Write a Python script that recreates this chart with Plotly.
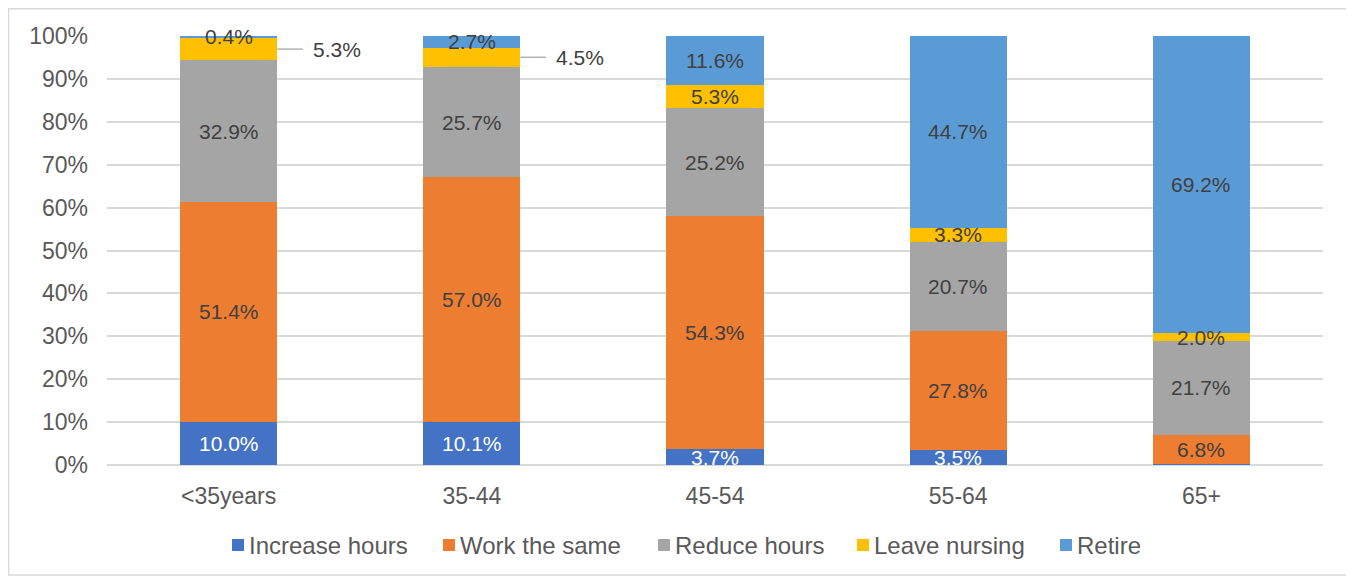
import plotly.graph_objects as go

categories = ["<35years", "35-44", "45-54", "55-64", "65+"]
series_names = ["Increase hours", "Work the same", "Reduce hours", "Leave nursing", "Retire"]
increase_hours = [10.0, 10.1, 3.7, 3.5, 0.3]
work_the_same = [51.4, 57.0, 54.3, 27.8, 6.8]
reduce_hours = [32.9, 25.7, 25.2, 20.7, 21.7]
leave_nursing = [5.3, 4.5, 5.3, 3.3, 2.0]
retire = [0.4, 2.7, 11.6, 44.7, 69.2]
tick_vals = [0, 10, 20, 30, 40, 50, 60, 70, 80, 90, 100]
tick_text = [f"{v}%" for v in tick_vals]

colors = ["#4472C4", "#ED7D31", "#A5A5A5", "#FFC000", "#5B9BD5"]
text_colors = ["#FFFFFF", "#404040", "#404040", "#404040", "#404040"]
all_series = [increase_hours, work_the_same, reduce_hours, leave_nursing, retire]

# (series index, category index)
omitted = {(0, 4)}
outside = {(3, 0), (3, 1)}

FONT = "Liberation Sans, Arial, sans-serif"
LABEL_SIZE = 21

# figure geometry (px) used to place the custom legend in paper coordinates
W, H = 1346, 569
ML, MR, MT, MB = 99, 31, 28, 112
PW, PH = W - ML - MR, H - MT - MB


def px_to_paper_x(px):
    return (px - ML) / PW


def px_to_paper_y(py):
    return (H - MB - py) / PH


fig = go.Figure()
for si, (name, vals) in enumerate(zip(series_names, all_series)):
    fig.add_trace(go.Bar(
        x=categories, y=vals, name=name,
        marker=dict(color=colors[si], line=dict(width=0)),
        hoverinfo="skip", showlegend=False,
    ))

for ci in range(len(categories)):
    base = 0.0
    for si in range(len(all_series)):
        v = all_series[si][ci]
        mid = base + v / 2
        base += v
        if (si, ci) in omitted:
            continue
        label = f"{v:.1f}%"
        if (si, ci) in outside:
            fig.add_shape(type="line", xref="x", yref="y",
                          x0=ci + 0.2, x1=ci + 0.305, y0=mid, y1=mid,
                          line=dict(color="#A6A6A6", width=1.3))
            fig.add_annotation(x=ci + 0.2, y=mid, xref="x", yref="y",
                               text=label, showarrow=False, xanchor="left",
                               xshift=34,
                               font=dict(size=LABEL_SIZE, color="#404040", family=FONT))
        else:
            fig.add_annotation(x=ci, y=mid, xref="x", yref="y",
                               text=label, showarrow=False,
                               font=dict(size=LABEL_SIZE, color=text_colors[si], family=FONT))

# custom legend (square marker + text) matching the reference spacing
legend_left_px = [224, 435, 650, 849, 1052]
legend_cy = 537
for si, name in enumerate(series_names):
    lx = legend_left_px[si]
    fig.add_shape(type="rect", xref="paper", yref="paper",
                  x0=px_to_paper_x(lx), x1=px_to_paper_x(lx + 12),
                  y0=px_to_paper_y(legend_cy + 6), y1=px_to_paper_y(legend_cy - 6),
                  line=dict(width=0), fillcolor=colors[si])
    fig.add_annotation(xref="paper", yref="paper",
                       x=px_to_paper_x(lx + 15), y=px_to_paper_y(legend_cy),
                       text=name, showarrow=False, xanchor="left", yanchor="middle",
                       font=dict(size=24, color="#595959", family=FONT))

fig.add_shape(type="rect", xref="paper", yref="paper",
              x0=-0.0810, x1=1.0236, y0=-0.2564, y1=1.0635,
              line=dict(color="#D9D9D9", width=1.5), fillcolor="rgba(0,0,0,0)")

fig.update_layout(
    barmode="stack", bargap=0.6,
    width=W, height=H,
    margin=dict(l=ML, r=MR, t=MT, b=MB),
    plot_bgcolor="white", paper_bgcolor="white",
    font=dict(family=FONT, color="#595959", size=23),
    showlegend=False,
    xaxis=dict(showgrid=False, showline=False, ticks="", tickfont=dict(size=23),
               ticklabelstandoff=15),
    yaxis=dict(range=[0, 100], tickvals=tick_vals, ticktext=tick_text,
               showgrid=True, gridcolor="#D9D9D9", gridwidth=1.5,
               zeroline=True, zerolinecolor="#D9D9D9", zerolinewidth=1.5,
               showline=False, ticks="", tickfont=dict(size=23),
               ticklabelstandoff=18),
)

fig.write_html("out.html")
